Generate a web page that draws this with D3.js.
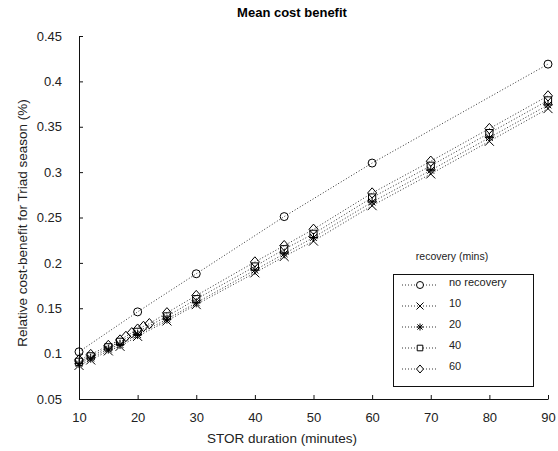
<!DOCTYPE html>
<html>
<head>
<meta charset="utf-8">
<script src="https://cdn.jsdelivr.net/npm/d3@7"></script>
<style>
  body { margin: 0; background: #fff; }
  text { font-family: "Liberation Sans", Arial, sans-serif; }
</style>
</head>
<body>
<div class="chart"></div>
<script>
// data
const xTicks = [10, 20, 30, 40, 50, 60, 70, 80, 90];
const yTicks = ["0.05", "0.1", "0.15", "0.2", "0.25", "0.3", "0.35", "0.4", "0.45"];

const noRecX = [10, 20, 30, 45, 60, 90];
const noRecY = [0.102, 0.146, 0.188, 0.251, 0.310, 0.419];

const recX = [10, 12, 15, 17, 20, 25, 30, 40, 45, 50, 60, 70, 80, 90];
const rec10 = [0.087, 0.093, 0.103, 0.108, 0.119, 0.136, 0.154, 0.189, 0.207, 0.224, 0.263, 0.298, 0.334, 0.370];
const rec20 = [0.089, 0.095, 0.105, 0.110, 0.121, 0.138, 0.156, 0.192, 0.210, 0.228, 0.267, 0.302, 0.338, 0.374];
const rec40 = [0.091, 0.097, 0.107, 0.113, 0.124, 0.141, 0.160, 0.196, 0.215, 0.232, 0.272, 0.307, 0.343, 0.379];

const rec60X = [10, 12, 15, 17, 18, 19, 20, 21, 22, 25, 30, 40, 45, 50, 60, 70, 80, 90];
const rec60 = [0.093, 0.099, 0.109, 0.115, 0.119, 0.123, 0.127, 0.130, 0.133, 0.145, 0.164, 0.201, 0.219, 0.237, 0.277, 0.312, 0.348, 0.384];

const seriesNames = ["no recovery", "10", "20", "40", "60"];
const seriesMarks = ["circle", "x", "star", "square", "diamond"];

const series = [
  { name: seriesNames[0], mark: seriesMarks[0], pts: noRecX.map((x, i) => ({ x, y: noRecY[i] })) },
  { name: seriesNames[1], mark: seriesMarks[1], pts: recX.map((x, i) => ({ x, y: rec10[i] })) },
  { name: seriesNames[2], mark: seriesMarks[2], pts: recX.map((x, i) => ({ x, y: rec20[i] })) },
  { name: seriesNames[3], mark: seriesMarks[3], pts: recX.map((x, i) => ({ x, y: rec40[i] })) },
  { name: seriesNames[4], mark: seriesMarks[4], pts: rec60X.map((x, i) => ({ x, y: rec60[i] })) }
];

const W = 558, H = 451;
const svg = d3.select(".chart").append("svg")
  .attr("width", W).attr("height", H);

const xScale = d3.scaleLinear().domain([10, 90]).range([79, 548]);
const yScale = d3.scaleLinear().domain([0.05, 0.45]).range([399, 36]);

// marker path for a given type, size s (half width)
function markPath(type, s) {
  const p = d3.path();
  switch (type) {
    case "circle":
      p.moveTo(s, 0); p.arc(0, 0, s, 0, 2 * Math.PI); break;
    case "x":
      p.moveTo(-s, -s); p.lineTo(s, s); p.moveTo(-s, s); p.lineTo(s, -s); break;
    case "star":
      p.moveTo(-s, 0); p.lineTo(s, 0); p.moveTo(0, -s); p.lineTo(0, s);
      p.moveTo(-s * 0.75, -s * 0.75); p.lineTo(s * 0.75, s * 0.75);
      p.moveTo(-s * 0.75, s * 0.75); p.lineTo(s * 0.75, -s * 0.75); break;
    case "square":
      p.rect(-s * 0.8, -s * 0.8, s * 1.6, s * 1.6); break;
    case "diamond":
      p.moveTo(0, -s * 1.15); p.lineTo(s, 0); p.lineTo(0, s * 1.15); p.lineTo(-s, 0); p.closePath(); break;
  }
  return p.toString();
}

// axes
const xAxis = d3.axisBottom(xScale).tickValues(xTicks)
  .tickSizeInner(-4).tickSizeOuter(0).tickPadding(14);
const yAxis = d3.axisLeft(yScale).tickValues(yTicks.map(Number))
  .tickFormat((d, i) => yTicks[i])
  .tickSizeInner(-4).tickSizeOuter(0).tickPadding(17);

const gx = svg.append("g").attr("transform", "translate(0,399)").call(xAxis);
const gy = svg.append("g").attr("transform", "translate(79,0)").call(yAxis);
[gx, gy].forEach(g => {
  g.selectAll("text").attr("font-size", 13).attr("fill", "#222")
    .attr("font-family", "Liberation Sans, Arial, sans-serif");
  g.selectAll("line, path").attr("stroke", "#111");
});

// lines
const line = d3.line().x(d => xScale(d.x)).y(d => yScale(d.y));
svg.append("g").selectAll("path")
  .data(series)
  .join("path")
  .attr("d", d => line(d.pts))
  .attr("fill", "none")
  .attr("stroke", "#333")
  .attr("stroke-width", 1)
  .attr("stroke-dasharray", "1,2");

// markers
series.forEach(s => {
  svg.append("g").selectAll("path")
    .data(s.pts)
    .join("path")
    .attr("transform", d => `translate(${xScale(d.x)},${yScale(d.y)})`)
    .attr("d", markPath(s.mark, s.mark === "circle" ? 4 : 4.5))
    .attr("fill", "none")
    .attr("stroke", "#000")
    .attr("stroke-width", 1);
});

// titles
svg.append("text").attr("x", 292).attr("y", 17)
  .attr("text-anchor", "middle").attr("font-weight", "bold").attr("font-size", 13)
  .text("Mean cost benefit");
svg.append("text").attr("x", 282).attr("y", 443)
  .attr("text-anchor", "middle").attr("font-size", 13.5).attr("fill", "#222")
  .text("STOR duration (minutes)");
svg.append("text")
  .attr("transform", "translate(27,223) rotate(-90)")
  .attr("text-anchor", "middle").attr("font-size", 13.5).attr("fill", "#222")
  .text("Relative cost-benefit for Triad season (%)");

// legend
svg.append("text").attr("x", 452).attr("y", 260)
  .attr("text-anchor", "middle").attr("font-size", 10.5).attr("fill", "#222")
  .text("recovery (mins)");
const lg = svg.append("g");
lg.append("rect").attr("x", 393.5).attr("y", 274.5).attr("width", 140).attr("height", 112)
  .attr("fill", "#fff").attr("stroke", "#111");
series.forEach((s, i) => {
  const y = 285 + i * 21;
  lg.append("line").attr("x1", 402).attr("x2", 438).attr("y1", y).attr("y2", y)
    .attr("stroke", "#333").attr("stroke-dasharray", "1,2");
  lg.append("path").attr("transform", `translate(420,${y})`)
    .attr("d", markPath(s.mark, 3.5)).attr("fill", "#fff").attr("stroke", "#000");
  lg.append("text").attr("x", 449).attr("y", y).attr("dy", "0.1em")
    .attr("font-size", 11).attr("fill", "#222").text(s.name);
});
</script>
</body>
</html>
